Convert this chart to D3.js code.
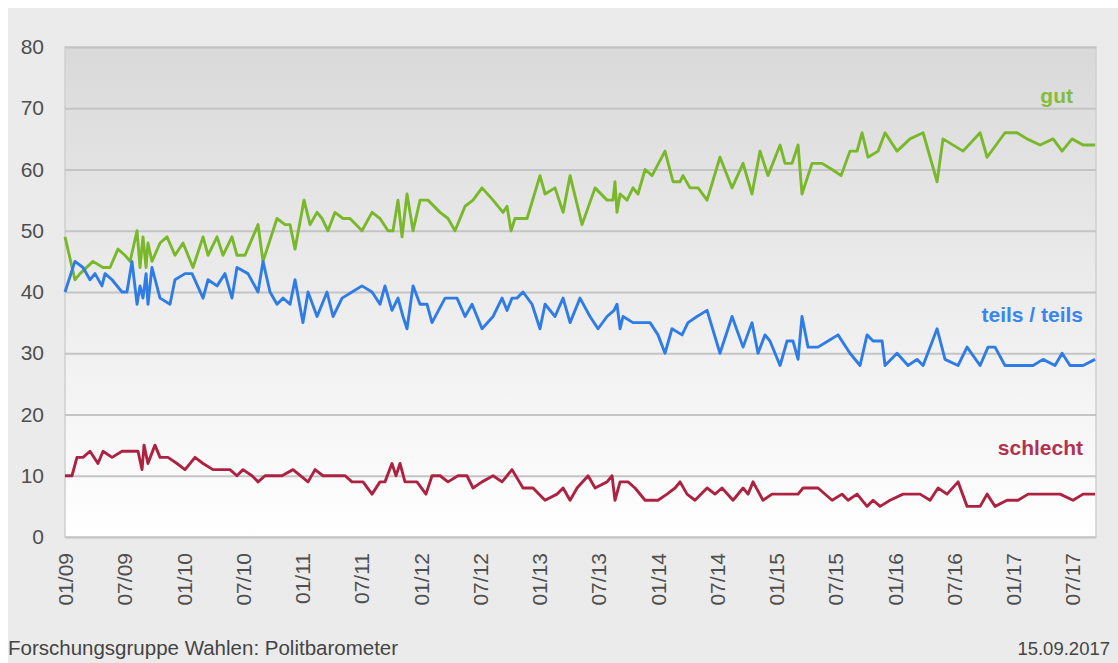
<!DOCTYPE html>
<html>
<head>
<meta charset="utf-8">
<script src="https://cdn.jsdelivr.net/npm/d3@7"></script>
<style>
  body { margin: 0; background: #fff; }
  svg { display: block; font-family: "Liberation Sans", Arial, sans-serif; }
</style>
</head>
<body>
<div id="chart"></div>
<script>
// Politbarometer: Beurteilung der wirtschaftlichen Lage (Werte in %)
// zeit = Dezimaljahr
const gut = [
  [2009.000,49],[2009.084,42],[2009.127,43],[2009.236,45],[2009.321,44],[2009.380,44],[2009.447,47],[2009.506,46],
  [2009.549,45],[2009.608,50],[2009.633,44],[2009.658,49],[2009.684,44],[2009.700,48],[2009.734,45],[2009.802,48],
  [2009.861,49],[2009.928,46],[2009.996,48],[2010.080,44],[2010.165,49],[2010.207,46],[2010.283,49],[2010.333,46],
  [2010.409,49],[2010.451,46],[2010.519,46],[2010.629,51],[2010.671,45],[2010.789,52],[2010.857,51],[2010.899,51],
  [2010.941,47],[2011.017,55],[2011.068,51],[2011.127,53],[2011.169,52],[2011.219,50],[2011.278,53],[2011.346,52],
  [2011.405,52],[2011.506,50],[2011.591,53],[2011.658,52],[2011.726,50],[2011.768,50],[2011.810,55],[2011.844,49],
  [2011.886,56],[2011.937,50],[2011.996,55],[2012.063,55],[2012.165,53],[2012.232,52],[2012.291,50],[2012.376,54],
  [2012.443,55],[2012.519,57],[2012.612,55],[2012.696,53],[2012.730,54],[2012.764,50],[2012.797,52],[2012.899,52],
  [2013.008,59],[2013.051,56],[2013.135,57],[2013.203,53],[2013.262,59],[2013.363,51],[2013.473,57],[2013.574,55],
  [2013.624,55],[2013.641,58],[2013.658,53],[2013.684,56],[2013.743,55],[2013.793,57],[2013.835,56],[2013.895,60],
  [2013.954,59],[2014.063,63],[2014.131,58],[2014.190,58],[2014.215,59],[2014.274,57],[2014.342,57],[2014.418,55],
  [2014.527,62],[2014.629,57],[2014.722,61],[2014.797,56],[2014.865,63],[2014.932,59],[2015.034,64],[2015.076,61],
  [2015.135,61],[2015.186,64],[2015.219,56],[2015.304,61],[2015.388,61],[2015.473,60],[2015.549,59],[2015.624,63],
  [2015.684,63],[2015.726,66],[2015.776,62],[2015.861,63],[2015.920,66],[2016.021,63],[2016.131,65],[2016.241,66],
  [2016.359,58],[2016.409,65],[2016.578,63],[2016.722,66],[2016.781,62],[2016.932,66],[2017.034,66],[2017.118,65],
  [2017.228,64],[2017.338,65],[2017.414,63],[2017.498,65],[2017.591,64],[2017.692,64]
];

const teils = [
  [2009.000,40],[2009.084,45],[2009.152,44],[2009.211,42],[2009.253,43],[2009.312,41],[2009.338,43],[2009.397,42],
  [2009.481,40],[2009.523,40],[2009.565,45],[2009.608,38],[2009.633,41],[2009.658,39],[2009.684,43],[2009.700,38],
  [2009.734,44],[2009.802,39],[2009.886,38],[2009.928,42],[2010.013,43],[2010.072,43],[2010.165,39],[2010.207,42],
  [2010.283,41],[2010.350,43],[2010.409,39],[2010.451,44],[2010.544,43],[2010.629,40],[2010.671,45],[2010.730,40],
  [2010.789,38],[2010.840,39],[2010.899,38],[2010.941,42],[2011.008,35],[2011.051,40],[2011.127,36],[2011.211,40],
  [2011.262,36],[2011.338,39],[2011.422,40],[2011.506,41],[2011.591,40],[2011.658,38],[2011.700,41],[2011.759,37],
  [2011.810,39],[2011.852,36],[2011.886,34],[2011.937,41],[2011.996,38],[2012.055,38],[2012.097,35],[2012.207,39],
  [2012.308,39],[2012.376,36],[2012.435,38],[2012.519,34],[2012.612,36],[2012.688,39],[2012.730,37],[2012.772,39],
  [2012.814,39],[2012.865,40],[2012.941,38],[2013.008,34],[2013.051,38],[2013.135,36],[2013.203,39],[2013.262,35],
  [2013.346,39],[2013.430,36],[2013.498,34],[2013.574,36],[2013.633,37],[2013.658,38],[2013.684,34],[2013.709,36],
  [2013.793,35],[2013.869,35],[2013.937,35],[2014.004,33],[2014.063,30],[2014.122,34],[2014.207,33],[2014.257,35],
  [2014.333,36],[2014.418,37],[2014.527,30],[2014.629,36],[2014.722,31],[2014.797,35],[2014.848,30],[2014.907,33],
  [2014.949,32],[2015.034,28],[2015.093,32],[2015.143,32],[2015.186,29],[2015.219,36],[2015.270,31],[2015.354,31],
  [2015.439,32],[2015.523,33],[2015.624,30],[2015.709,28],[2015.768,33],[2015.819,32],[2015.895,32],[2015.920,28],
  [2016.021,30],[2016.114,28],[2016.190,29],[2016.241,28],[2016.359,34],[2016.426,29],[2016.536,28],[2016.612,31],
  [2016.722,28],[2016.789,31],[2016.848,31],[2016.932,28],[2017.169,28],[2017.253,29],[2017.354,28],[2017.414,30],
  [2017.481,28],[2017.591,28],[2017.692,29]
];

const schlecht = [
  [2009.000,10],[2009.059,10],[2009.101,13],[2009.152,13],[2009.211,14],[2009.278,12],[2009.321,14],[2009.397,13],
  [2009.481,14],[2009.565,14],[2009.616,14],[2009.650,11],[2009.667,15],[2009.700,12],[2009.759,15],[2009.802,13],
  [2009.869,13],[2009.945,12],[2010.013,11],[2010.097,13],[2010.165,12],[2010.249,11],[2010.325,11],[2010.392,11],
  [2010.451,10],[2010.502,11],[2010.578,10],[2010.629,9],[2010.688,10],[2010.831,10],[2010.924,11],[2011.051,9],
  [2011.110,11],[2011.177,10],[2011.278,10],[2011.363,10],[2011.422,9],[2011.515,9],[2011.591,7],[2011.658,9],
  [2011.700,9],[2011.759,12],[2011.793,10],[2011.827,12],[2011.869,9],[2011.970,9],[2012.046,7],[2012.097,10],
  [2012.165,10],[2012.232,9],[2012.316,10],[2012.392,10],[2012.443,8],[2012.519,9],[2012.612,10],[2012.688,9],
  [2012.772,11],[2012.865,8],[2012.949,8],[2013.051,6],[2013.152,7],[2013.203,8],[2013.262,6],[2013.321,8],
  [2013.414,10],[2013.473,8],[2013.574,9],[2013.616,10],[2013.641,6],[2013.684,9],[2013.751,9],[2013.810,8],
  [2013.895,6],[2014.004,6],[2014.080,7],[2014.148,8],[2014.190,9],[2014.249,7],[2014.316,6],[2014.418,8],
  [2014.485,7],[2014.544,8],[2014.637,6],[2014.722,8],[2014.764,7],[2014.806,9],[2014.890,6],[2014.966,7],
  [2015.186,7],[2015.228,8],[2015.354,8],[2015.473,6],[2015.557,7],[2015.608,6],[2015.684,7],[2015.768,5],
  [2015.819,6],[2015.878,5],[2015.962,6],[2016.072,7],[2016.215,7],[2016.300,6],[2016.367,8],[2016.443,7],
  [2016.536,9],[2016.612,5],[2016.722,5],[2016.781,7],[2016.848,5],[2016.949,6],[2017.042,6],[2017.127,7],
  [2017.397,7],[2017.506,6],[2017.591,7],[2017.692,7]
];

const xTickLabels = ["01/09","07/09","01/10","07/10","01/11","07/11","01/12","07/12","01/13",
                     "07/13","01/14","07/14","01/15","07/15","01/16","07/16","01/17","07/17"];
const yTicks = [0, 10, 20, 30, 40, 50, 60, 70, 80];
const seriesLabels = ["gut", "teils / teils", "schlecht"];

const W = 1118, H = 663;
const m = {left: 65, right: 1096, top: 47, bottom: 537};

const svg = d3.select("#chart").append("svg")
  .attr("width", W).attr("height", H);

// hintergrund
svg.append("rect").attr("x", 8).attr("y", 8)
  .attr("width", W - 8).attr("height", H - 8).attr("fill", "#ebebeb");

const grad = svg.append("defs").append("linearGradient")
  .attr("id", "bg").attr("x1", 0).attr("y1", 0).attr("x2", 0).attr("y2", 1);
grad.append("stop").attr("offset", "0%").attr("stop-color", "#d9d9d9");
grad.append("stop").attr("offset", "100%").attr("stop-color", "#ffffff");

svg.append("rect")
  .attr("x", m.left).attr("y", m.top)
  .attr("width", m.right - m.left).attr("height", m.bottom - m.top)
  .attr("fill", "url(#bg)")
  .attr("stroke", "#cfcfcf").attr("stroke-width", 1.5);

const x = d3.scaleLinear().domain([2009, 2017.70]).range([m.left, m.right]);
const y = d3.scaleLinear().domain([0, 80]).range([m.bottom, m.top]);

const xTickValues = xTickLabels.map(l => 2000 + +l.slice(3) + (l.slice(0, 2) === "07" ? 0.5 : 0));

// gitterlinien
svg.append("g")
  .attr("transform", `translate(${m.left},0)`)
  .call(d3.axisLeft(y).tickValues(yTicks).tickSize(-(m.right - m.left)).tickFormat(""))
  .call(g => g.select(".domain").remove())
  .call(g => g.selectAll("line").attr("stroke", "#c4c4c4").attr("stroke-width", 1.8));

// y-achse
svg.append("g")
  .attr("transform", `translate(44,0)`)
  .call(d3.axisLeft(y).tickValues(yTicks).tickSize(0).tickPadding(0))
  .call(g => g.select(".domain").remove())
  .call(g => g.selectAll("text")
    .attr("font-size", 21).attr("fill", "#4f4f4f")
    .attr("font-family", "'Liberation Sans', Arial, sans-serif"));

// x-achse, senkrecht
svg.append("g")
  .attr("transform", `translate(0,${m.bottom})`)
  .call(d3.axisBottom(x).tickValues(xTickValues).tickSize(0)
    .tickFormat((d, i) => xTickLabels[i]))
  .call(g => g.select(".domain").remove())
  .call(g => g.selectAll("text")
    .attr("font-size", 21).attr("fill", "#4f4f4f")
    .attr("font-family", "'Liberation Sans', Arial, sans-serif")
    .attr("text-anchor", "end")
    .attr("transform", "translate(0,16) rotate(-90)")
    .attr("x", 0).attr("y", 0).attr("dy", "0.36em"));

const line = d3.line().x(d => x(d[0])).y(d => y(d[1]));

const series = [
  {data: gut, color: "#79b82a", label: seriesLabels[0], lx: 1073, ly: 103, lc: "#84bd38"},
  {data: teils, color: "#2f7ce6", label: seriesLabels[1], lx: 1083, ly: 322, lc: "#3a85ee"},
  {data: schlecht, color: "#ad2240", label: seriesLabels[2], lx: 1083, ly: 455, lc: "#b3324f"}
];

svg.selectAll("path.series").data(series).enter().append("path")
  .attr("class", "series")
  .attr("d", s => line(s.data))
  .attr("fill", "none")
  .attr("stroke", s => s.color)
  .attr("stroke-width", 2.9)
  .attr("stroke-linejoin", "round");

svg.selectAll("text.lab").data(series).enter().append("text")
  .attr("class", "lab")
  .attr("x", s => s.lx).attr("y", s => s.ly)
  .attr("text-anchor", "end")
  .attr("font-size", 21).attr("font-weight", "bold")
  .attr("fill", s => s.lc)
  .text(s => s.label);

// fusszeile
svg.append("text").attr("x", 8).attr("y", 655)
  .attr("font-size", 20.5).attr("fill", "#444")
  .text("Forschungsgruppe Wahlen: Politbarometer");
svg.append("text").attr("x", 1110).attr("y", 655)
  .attr("text-anchor", "end").attr("font-size", 18.5).attr("fill", "#444")
  .text("15.09.2017");
</script>
</body>
</html>
